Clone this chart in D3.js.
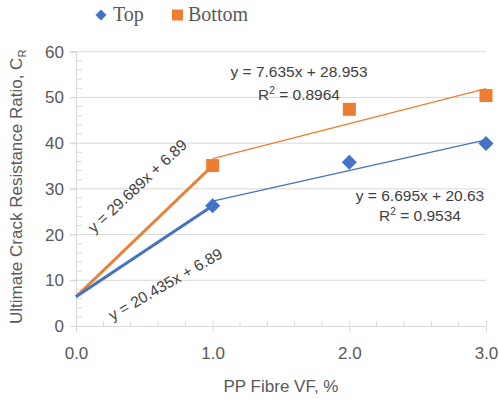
<!DOCTYPE html>
<html>
<head>
<meta charset="utf-8">
<script src="https://cdn.jsdelivr.net/npm/d3@7"></script>
<style>
  body { margin: 0; background: #fff; }
  text { font-family: "Liberation Sans", Arial, sans-serif; }
  text.serif { font-family: "Liberation Serif", "Times New Roman", serif; }
</style>
</head>
<body>
<svg id="chart" width="499" height="399"></svg>
<script>
// values
const xTicks = [0, 1, 2, 3];
const yTicks = [0, 10, 20, 30, 40, 50, 60];
const pointX = [1, 2, 3];
const topY = [26.3, 35.8, 39.9];
const bottomY = [35.1, 47.4, 50.4];
// thick segments from origin to first point
const topStart = [[0, 6.4], [1, 26.3]];
const bottomStart = [[0, 6.4], [1, 35.1]];
// linear trend lines over 1..3
const topTrend = [[1, 27.3], [3, 40.7]];
const bottomTrend = [[1, 36.6], [3, 51.9]];

const blue = '#4472c4';
const orange = '#ed7d31';
const grid = '#d9d9d9';
const textCol = '#595959';

const svg = d3.select('#chart');
const x = d3.scaleLinear().domain([0, 3]).range([76, 486]);
const y = d3.scaleLinear().domain([0, 60]).range([326, 51.7]);

// gridlines
svg.append('g')
  .selectAll('line')
  .data(yTicks.filter(d => d > 0))
  .join('line')
  .attr('x1', x(0) - 6).attr('x2', x(3))
  .attr('y1', d => y(d)).attr('y2', d => y(d))
  .attr('stroke', grid).attr('stroke-width', 1);

// y axis: major ticks outward, minor inward
const yAxis = svg.append('g').attr('transform', `translate(${x(0)},0)`);
yAxis.call(d3.axisLeft(y).tickValues(yTicks).tickSize(6).tickFormat(d3.format('d')).tickPadding(6));
yAxis.append('g')
  .selectAll('line')
  .data(d3.range(0, 60, 2).filter(d => d % 10 !== 0))
  .join('line')
  .attr('x1', 0).attr('x2', 6)
  .attr('y1', d => y(d)).attr('y2', d => y(d));
yAxis.selectAll('line').attr('stroke', grid);
yAxis.select('.domain').attr('stroke', grid);

// x axis
const xAxis = svg.append('g').attr('transform', `translate(0,${y(0)})`);
xAxis.call(d3.axisBottom(x).tickValues(xTicks).tickSizeInner(6).tickSizeOuter(0).tickFormat(d3.format('.1f')).tickPadding(15));
xAxis.selectAll('.tick line').attr('y1', -5);
xAxis.append('g')
  .selectAll('line')
  .data(d3.range(0.2, 3, 0.2).filter(d => Math.abs(d - Math.round(d)) > 0.01))
  .join('line')
  .attr('x1', d => x(d)).attr('x2', d => x(d))
  .attr('y1', -5).attr('y2', 0);
xAxis.selectAll('line').attr('stroke', grid);
xAxis.select('.domain').attr('stroke', grid);

svg.selectAll('.tick text')
  .attr('fill', textCol)
  .style('font-size', '17px');

const line = d3.line().x(d => x(d[0])).y(d => y(d[1]));

// trend lines
svg.append('path').datum(bottomTrend).attr('d', line)
  .attr('fill', 'none').attr('stroke', orange).attr('stroke-width', 1.3);
svg.append('path').datum(topTrend).attr('d', line)
  .attr('fill', 'none').attr('stroke', blue).attr('stroke-width', 1.3);

// thick start segments
svg.append('path').datum(bottomStart).attr('d', line)
  .attr('fill', 'none').attr('stroke', orange).attr('stroke-width', 3);
svg.append('path').datum(topStart).attr('d', line)
  .attr('fill', 'none').attr('stroke', blue).attr('stroke-width', 3);

// markers
svg.append('g')
  .selectAll('rect')
  .data(pointX.map((d, i) => [d, bottomY[i]]))
  .join('rect')
  .attr('x', d => x(d[0]) - 6.5).attr('y', d => y(d[1]) - 6.5)
  .attr('width', 13).attr('height', 13)
  .attr('fill', orange);
svg.append('g')
  .selectAll('path')
  .data(pointX.map((d, i) => [d, topY[i]]))
  .join('path')
  .attr('transform', d => `translate(${x(d[0])},${y(d[1])})`)
  .attr('d', 'M0,-7.5L7.5,0L0,7.5L-7.5,0Z')
  .attr('fill', blue);

// equation labels
const lab = svg.append('g').attr('fill', '#404040').style('font-size', '15.5px');
lab.append('text').attr('x', 299).attr('y', 77).attr('text-anchor', 'middle').text('y = 7.635x + 28.953');
const r1 = lab.append('text').attr('x', 299).attr('y', 100).attr('text-anchor', 'middle');
r1.append('tspan').text('R');
r1.append('tspan').attr('dy', -6).style('font-size', '10px').text('2');
r1.append('tspan').attr('dy', 6).text(' = 0.8964');
lab.append('text').attr('x', 420).attr('y', 201).attr('text-anchor', 'middle').text('y = 6.695x + 20.63');
const r2 = lab.append('text').attr('x', 420).attr('y', 221).attr('text-anchor', 'middle');
r2.append('tspan').text('R');
r2.append('tspan').attr('dy', -6).style('font-size', '10px').text('2');
r2.append('tspan').attr('dy', 6).text(' = 0.9534');
lab.append('text').attr('transform', 'translate(141,190) rotate(-43)')
  .attr('text-anchor', 'middle').text('y = 29.689x + 6.89');
lab.append('text').attr('transform', 'translate(168,289) rotate(-30)')
  .attr('text-anchor', 'middle').text('y = 20.435x + 6.89');

// axis titles
svg.append('text')
  .attr('x', (x(0) + x(3)) / 2).attr('y', 392)
  .attr('text-anchor', 'middle').attr('fill', textCol)
  .style('font-size', '17px')
  .text('PP Fibre VF, %');
const yt = svg.append('text')
  .attr('transform', `translate(22,${(y(0) + y(60)) / 2 - 2}) rotate(-90)`)
  .attr('text-anchor', 'middle').attr('fill', textCol)
  .style('font-size', '17px');
yt.append('tspan').text('Ultimate Crack Resistance Ratio, C');
yt.append('tspan').attr('dy', 4).style('font-size', '11px').text('R');

// legend
const leg = svg.append('g').attr('fill', textCol);
leg.append('path').attr('transform', 'translate(101,15)')
  .attr('d', 'M0,-5.5L5.5,0L0,5.5L-5.5,0Z').attr('fill', blue);
leg.append('text').attr('class', 'serif').attr('x', 113).attr('y', 21).style('font-size', '20px').text('Top');
leg.append('rect').attr('x', 172).attr('y', 9.5).attr('width', 11).attr('height', 11).attr('fill', orange);
leg.append('text').attr('class', 'serif').attr('x', 188).attr('y', 21).style('font-size', '20px').text('Bottom');
</script>
</body>
</html>
